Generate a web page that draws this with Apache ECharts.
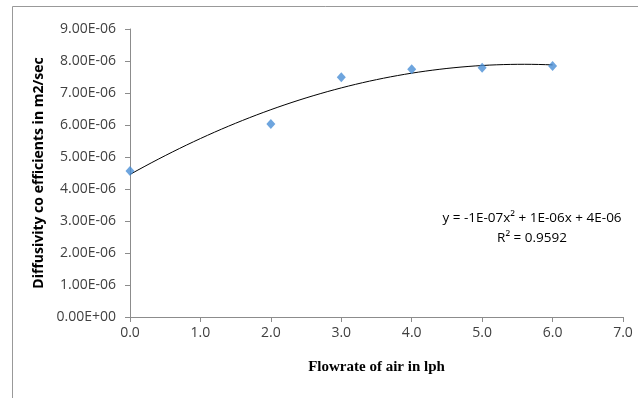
<!DOCTYPE html>
<html>
<head>
<meta charset="utf-8">
<script src="https://cdn.jsdelivr.net/npm/echarts@6/dist/echarts.min.js"></script>
<style>
  html, body { margin: 0; padding: 0; background: #fff; }
  #chart { width: 638px; height: 398px; }
</style>
</head>
<body>
<div id="chart"></div>
<script>
// flowrate (lph) and measured diffusivity (m2/sec)
const flowrate = [0, 2, 3, 4, 5, 6];
const diffusivity = [4.56e-6, 6.03e-6, 7.49e-6, 7.74e-6, 7.79e-6, 7.84e-6];
const xTicks = [0, 1, 2, 3, 4, 5, 6, 7];
const yTicks = [0, 1e-6, 2e-6, 3e-6, 4e-6, 5e-6, 6e-6, 7e-6, 8e-6, 9e-6];
const trendLabel = ["y = -1E-07x\u00b2 + 1E-06x + 4E-06", "R\u00b2 = 0.9592"];

// quadratic least squares fit of the points (same as the excel trendline)
function polyFit2(xs, ys) {
  let s = [0, 0, 0, 0, 0], t = [0, 0, 0];
  xs.forEach((x, i) => {
    for (let k = 0; k < 5; k++) s[k] += Math.pow(x, k);
    for (let k = 0; k < 3; k++) t[k] += Math.pow(x, k) * ys[i];
  });
  const m = [[s[0], s[1], s[2], t[0]], [s[1], s[2], s[3], t[1]], [s[2], s[3], s[4], t[2]]];
  for (let i = 0; i < 3; i++) {
    for (let j = i + 1; j < 3; j++) {
      const f = m[j][i] / m[i][i];
      for (let k = i; k < 4; k++) m[j][k] -= f * m[i][k];
    }
  }
  const c = [0, 0, 0];
  for (let i = 2; i >= 0; i--) {
    let v = m[i][3];
    for (let k = i + 1; k < 3; k++) v -= m[i][k] * c[k];
    c[i] = v / m[i][i];
  }
  return c;
}

const coef = polyFit2(flowrate, diffusivity);
const xMin = flowrate[0], xMax = flowrate[flowrate.length - 1];
const trend = [];
for (let i = 0; i <= 60; i++) {
  const x = xMin + (xMax - xMin) * i / 60;
  trend.push([x, coef[0] + coef[1] * x + coef[2] * x * x]);
}

function sci(v) {
  if (Math.abs(v) < 1e-12) return "0.00E+00";
  const parts = v.toExponential(2).toUpperCase().split("E");
  const e = parseInt(parts[1], 10);
  const sign = e < 0 ? "-" : "+";
  return parts[0] + "E" + sign + String(Math.abs(e)).padStart(2, "0");
}

const axisGray = "#8c8c8c";
const chart = echarts.init(document.getElementById("chart"));
chart.setOption({
  animation: false,
  grid: { left: 130, right: 15, top: 29, bottom: 81 },
  xAxis: {
    type: "value",
    min: xTicks[0],
    max: xTicks[xTicks.length - 1],
    interval: 1,
    name: "Flowrate of air in lph",
    nameLocation: "middle",
    nameGap: 43,
    nameTextStyle: { fontFamily: "Liberation Serif", fontWeight: "bold", fontSize: 15, color: "#000" },
    splitLine: { show: false },
    axisLine: { lineStyle: { color: axisGray } },
    axisTick: { length: 5, lineStyle: { color: axisGray } },
    axisLabel: {
      margin: 9,
      fontFamily: "Open Sans",
      fontSize: 14,
      color: "#404040",
      formatter: (v) => v.toFixed(1),
    },
  },
  yAxis: {
    type: "value",
    min: yTicks[0],
    max: yTicks[yTicks.length - 1],
    interval: 1e-6,
    name: "Diffusivity co efficients in m2/sec",
    nameLocation: "middle",
    nameGap: 77,
    nameTextStyle: { fontFamily: "Open Sans", fontWeight: "bold", fontSize: 14, color: "#000" },
    splitLine: { show: false },
    axisLine: { show: true, lineStyle: { color: axisGray } },
    axisTick: { show: true, length: 5, lineStyle: { color: axisGray } },
    axisLabel: {
      margin: 14,
      fontFamily: "Open Sans",
      fontSize: 14,
      color: "#404040",
      formatter: sci,
    },
  },
  graphic: [
    {
      type: "rect",
      shape: { x: 12.5, y: 6.5, width: 700, height: 500 },
      style: { fill: "none", stroke: "#999", lineWidth: 1 },
      silent: true,
      z: -1,
    },
    {
      type: "text",
      x: 532,
      y: 208,
      style: {
        text: trendLabel.join("\n"),
        textAlign: "center",
        lineHeight: 20,
        font: "13.5px 'Open Sans'",
        fill: "#000",
      },
    },
  ],
  series: [
    {
      type: "line",
      data: trend,
      showSymbol: false,
      lineStyle: { color: "#000", width: 1 },
      z: 1,
    },
    {
      type: "scatter",
      data: flowrate.map((x, i) => [x, diffusivity[i]]),
      symbol: "diamond",
      symbolSize: [9, 10],
      itemStyle: { color: "#4a8fd6" },
      z: 2,
    },
  ],
});
</script>
</body>
</html>
